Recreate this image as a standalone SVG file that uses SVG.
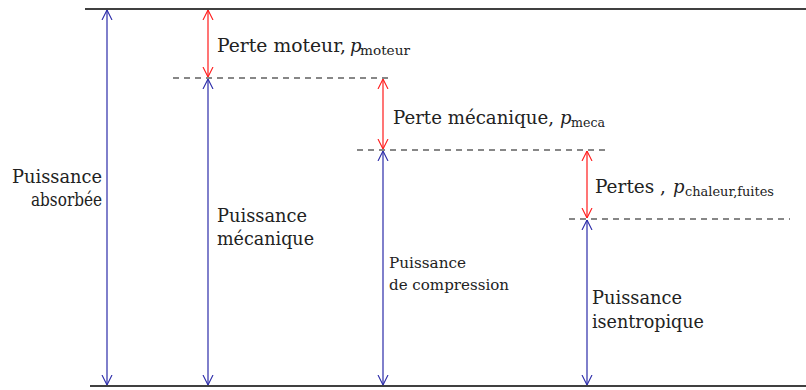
<svg xmlns="http://www.w3.org/2000/svg" width="806" height="390" viewBox="0 0 806 390" font-family="'DejaVu Serif','Liberation Serif',serif">
<defs>
<marker id="hb" viewBox="0 0 10 12" refX="10" refY="6" markerWidth="10" markerHeight="12" markerUnits="userSpaceOnUse" orient="auto-start-reverse">
<path d="M0,1 L10,6 L0,11" fill="none" stroke="#2a2aa8" stroke-width="1.1"/>
</marker>
<marker id="hr" viewBox="0 0 10 12" refX="10" refY="6" markerWidth="10" markerHeight="12" markerUnits="userSpaceOnUse" orient="auto-start-reverse">
<path d="M0,1 L10,6 L0,11" fill="none" stroke="#ff1a1a" stroke-width="1.1"/>
</marker>
</defs>
<style>
.solid{stroke:#000;stroke-width:1.3;fill:none}
.dash{stroke:#111;stroke-width:1.2;stroke-dasharray:6,5;fill:none}
.blue{stroke:#2a2aa8;stroke-width:1.2;fill:none;marker-start:url(#hb);marker-end:url(#hb)}
.red{stroke:#ff1a1a;stroke-width:1.2;fill:none;marker-start:url(#hr);marker-end:url(#hr)}
text{font-family:"DejaVu Serif","Liberation Serif",serif;fill:#222;font-size:18px}
.sm{font-size:14.5px}
.sub{font-size:12.5px}
.it{font-style:italic}
</style>
<g id="levels">
<line class="solid" x1="85" y1="9" x2="806" y2="9"/>
<line class="solid" x1="90" y1="386" x2="806" y2="386"/>
<line class="dash" x1="173" y1="78" x2="390" y2="78"/>
<line class="dash" x1="357" y1="150" x2="610" y2="150"/>
<line class="dash" x1="569" y1="219" x2="790" y2="219"/>
</g>
<g id="connectors">
<line class="blue" x1="107" y1="10" x2="107" y2="385"/>
<line class="red" x1="208" y1="10" x2="208" y2="77"/>
<line class="blue" x1="208" y1="79" x2="208" y2="385"/>
<line class="red" x1="383" y1="79" x2="383" y2="149"/>
<line class="blue" x1="383" y1="151" x2="383" y2="385"/>
<line class="red" x1="587" y1="151" x2="587" y2="218"/>
<line class="blue" x1="587" y1="220" x2="587" y2="385"/>
</g>
<g id="absorbee">
<text x="12" y="183" textLength="90" lengthAdjust="spacingAndGlyphs">Puissance</text>
<text x="31" y="206" textLength="71" lengthAdjust="spacingAndGlyphs">absorbée</text>
</g>
<g id="perte-moteur">
<text x="217" y="52" textLength="129" lengthAdjust="spacingAndGlyphs">Perte moteur,</text>
<text x="350" y="52" class="it">p</text>
<text x="360" y="55" class="sub" textLength="50" lengthAdjust="spacingAndGlyphs">moteur</text>
</g>
<g id="mecanique">
<text x="217" y="222" textLength="90" lengthAdjust="spacingAndGlyphs">Puissance</text>
<text x="217" y="245" textLength="97" lengthAdjust="spacingAndGlyphs">mécanique</text>
</g>
<g id="perte-meca">
<text x="393" y="124" textLength="161" lengthAdjust="spacingAndGlyphs">Perte mécanique,</text>
<text x="560" y="124" class="it">p</text>
<text x="571" y="127" class="sub" textLength="34" lengthAdjust="spacingAndGlyphs">meca</text>
</g>
<g id="compression">
<text class="sm" x="389" y="268" textLength="77" lengthAdjust="spacingAndGlyphs">Puissance</text>
<text class="sm" x="389" y="290" textLength="120" lengthAdjust="spacingAndGlyphs">de compression</text>
</g>
<g id="pertes">
<text x="595" y="193" textLength="71" lengthAdjust="spacingAndGlyphs">Pertes ,</text>
<text x="673" y="193" class="it">p</text>
<text x="685" y="196" class="sub" textLength="89" lengthAdjust="spacingAndGlyphs">chaleur,fuites</text>
</g>
<g id="isentropique">
<text x="592" y="304" textLength="90" lengthAdjust="spacingAndGlyphs">Puissance</text>
<text x="592" y="328" textLength="112" lengthAdjust="spacingAndGlyphs">isentropique</text>
</g>
</svg>
